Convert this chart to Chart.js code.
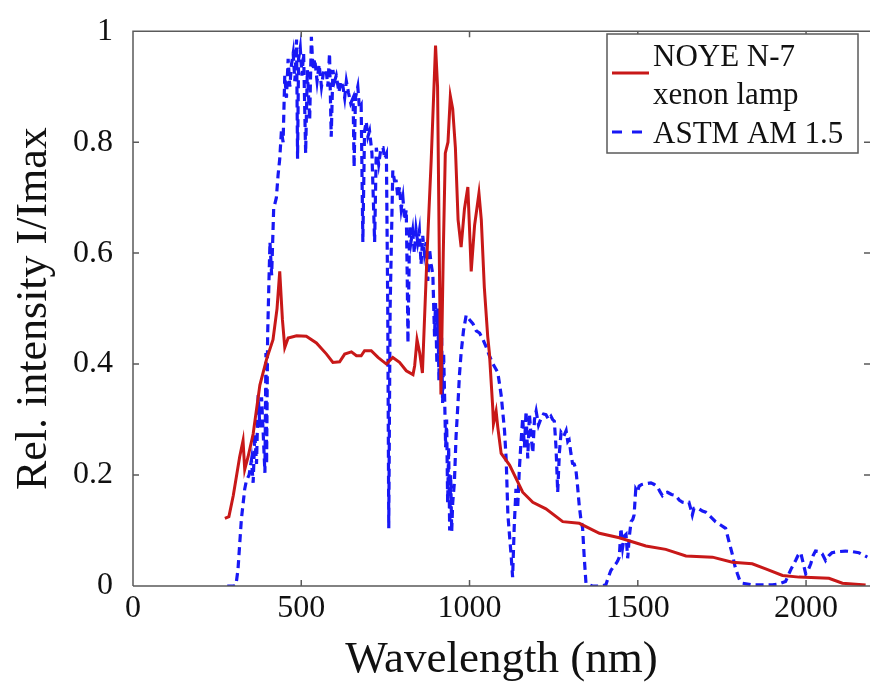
<!DOCTYPE html>
<html>
<head>
<meta charset="utf-8">
<script src="https://cdn.jsdelivr.net/npm/chart.js@4.4.0/dist/chart.umd.min.js"></script>
<style>
  html, body { margin: 0; padding: 0; background: #fff; }
  #spectrumChart { display: block; }
</style>
</head>
<body>
<canvas id="spectrumChart" width="870" height="691"></canvas>
<script>
// NOYE N-7 xenon lamp spectrum (nm / relative intensity)
const xenonWavelength = [273, 285, 298, 317, 327, 332, 342, 357, 377, 397, 416, 428, 436, 444, 451, 461, 486, 515, 545, 575, 594, 614, 629, 649, 664, 678, 688, 708, 728, 753, 772, 792, 812, 832, 837, 844, 852, 860, 874, 886, 899, 905, 911, 915, 922, 928, 936, 943, 950, 958, 966, 975, 985, 995, 1005, 1015, 1028, 1035, 1044, 1054, 1059, 1069, 1071, 1079, 1084, 1094, 1119, 1158, 1188, 1227, 1277, 1326, 1386, 1445, 1524, 1583, 1643, 1722, 1781, 1840, 1880, 1930, 1979, 2068, 2108, 2177];
const xenonIntensity = [0.122, 0.125, 0.163, 0.233, 0.262, 0.21, 0.233, 0.274, 0.362, 0.409, 0.444, 0.5, 0.567, 0.48, 0.43, 0.447, 0.451, 0.45, 0.438, 0.418, 0.403, 0.404, 0.418, 0.422, 0.415, 0.415, 0.424, 0.424, 0.412, 0.4, 0.412, 0.403, 0.388, 0.381, 0.397, 0.444, 0.42, 0.384, 0.602, 0.766, 0.974, 0.9, 0.55, 0.345, 0.6, 0.78, 0.8, 0.883, 0.86, 0.79, 0.66, 0.611, 0.68, 0.719, 0.567, 0.65, 0.708, 0.66, 0.538, 0.45, 0.42, 0.321, 0.292, 0.315, 0.286, 0.239, 0.218, 0.169, 0.151, 0.139, 0.116, 0.113, 0.095, 0.087, 0.072, 0.066, 0.054, 0.052, 0.043, 0.04, 0.031, 0.019, 0.016, 0.014, 0.005, 0.002];

// ASTM AM 1.5 reference spectrum
const astmWavelength = [280, 300, 306, 312, 322, 332, 337, 345, 352, 357, 362, 367, 372, 377, 382, 387, 392, 395, 397, 400, 404, 407, 412, 418, 426, 431, 436, 441, 446, 451, 456, 461, 466, 471, 476, 481, 486, 489, 492, 497, 502, 507, 513, 518, 525, 530, 535, 540, 547, 553, 560, 567, 574, 579, 584, 589, 594, 599, 604, 612, 618, 624, 629, 634, 640, 647, 654, 657, 661, 668, 673, 678, 683, 688, 693, 698, 703, 710, 718, 723, 730, 737, 743, 748, 753, 757, 760, 764, 772, 777, 782, 787, 792, 797, 802, 807, 812, 815, 817, 820, 822, 826, 831, 836, 841, 846, 851, 856, 861, 866, 871, 876, 881, 886, 891, 896, 899, 903, 906, 909, 911, 914, 917, 920, 923, 926, 929, 932, 935, 938, 941, 944, 947, 950, 955, 960, 966, 970, 975, 982, 990, 1000, 1010, 1020, 1030, 1040, 1050, 1059, 1070, 1084, 1094, 1104, 1109, 1114, 1119, 1124, 1128, 1133, 1138, 1143, 1148, 1153, 1158, 1163, 1168, 1173, 1178, 1183, 1188, 1193, 1198, 1205, 1213, 1220, 1227, 1235, 1242, 1247, 1252, 1257, 1262, 1267, 1272, 1280, 1287, 1292, 1296, 1301, 1306, 1311, 1316, 1321, 1326, 1331, 1336, 1341, 1346, 1365, 1390, 1405, 1412, 1420, 1428, 1435, 1440, 1445, 1450, 1455, 1460, 1465, 1470, 1475, 1480, 1485, 1489, 1494, 1499, 1504, 1512, 1519, 1529, 1539, 1549, 1559, 1566, 1573, 1580, 1588, 1600, 1613, 1623, 1633, 1642, 1652, 1657, 1662, 1667, 1675, 1682, 1692, 1702, 1716, 1731, 1746, 1761, 1771, 1781, 1789, 1796, 1803, 1811, 1840, 1870, 1900, 1920, 1939, 1955, 1969, 1976, 1984, 1992, 1999, 2007, 2014, 2021, 2028, 2038, 2048, 2058, 2068, 2077, 2097, 2117, 2137, 2157, 2170, 2182];
const astmIntensity = [0, 0, 0.002, 0.03, 0.12, 0.175, 0.19, 0.2, 0.227, 0.186, 0.274, 0.22, 0.344, 0.286, 0.34, 0.274, 0.204, 0.42, 0.22, 0.45, 0.55, 0.62, 0.56, 0.68, 0.7, 0.74, 0.77, 0.82, 0.8, 0.92, 0.88, 0.95, 0.9, 0.94, 0.96, 0.91, 0.985, 0.77, 0.95, 0.97, 0.92, 0.96, 0.78, 0.93, 0.84, 0.99, 0.93, 0.95, 0.91, 0.94, 0.9, 0.93, 0.93, 0.9, 0.96, 0.81, 0.93, 0.91, 0.92, 0.89, 0.91, 0.9, 0.88, 0.91, 0.89, 0.87, 0.88, 0.755, 0.88, 0.9, 0.86, 0.866, 0.62, 0.82, 0.837, 0.81, 0.82, 0.78, 0.62, 0.79, 0.76, 0.79, 0.79, 0.77, 0.778, 0.5, 0.104, 0.5, 0.749, 0.73, 0.73, 0.7, 0.719, 0.68, 0.7, 0.66, 0.678, 0.55, 0.438, 0.56, 0.649, 0.62, 0.64, 0.6, 0.643, 0.62, 0.64, 0.58, 0.631, 0.6, 0.62, 0.55, 0.608, 0.58, 0.561, 0.45, 0.51, 0.4, 0.5, 0.37, 0.48, 0.4, 0.45, 0.33, 0.42, 0.34, 0.25, 0.3, 0.15, 0.25, 0.1, 0.2, 0.098, 0.15, 0.186, 0.27, 0.333, 0.38, 0.42, 0.46, 0.488, 0.48, 0.473, 0.46, 0.456, 0.444, 0.43, 0.415, 0.4, 0.385, 0.344, 0.28, 0.227, 0.128, 0.09, 0.052, 0.016, 0.11, 0.175, 0.14, 0.21, 0.26, 0.303, 0.25, 0.315, 0.23, 0.31, 0.27, 0.24, 0.3, 0.315, 0.29, 0.303, 0.31, 0.309, 0.3, 0.306, 0.3, 0.297, 0.25, 0.169, 0.24, 0.277, 0.27, 0.28, 0.26, 0.263, 0.24, 0.221, 0.22, 0.21, 0.18, 0.145, 0.12, 0.104, 0.05, 0.005, 0, 0, 0.002, 0.015, 0.028, 0.035, 0.04, 0.045, 0.052, 0.104, 0.07, 0.09, 0.093, 0.05, 0.09, 0.116, 0.12, 0.128, 0.175, 0.17, 0.18, 0.183, 0.184, 0.185, 0.186, 0.183, 0.178, 0.17, 0.163, 0.168, 0.169, 0.165, 0.163, 0.155, 0.151, 0.15, 0.151, 0.14, 0.128, 0.14, 0.14, 0.139, 0.135, 0.133, 0.125, 0.116, 0.11, 0.104, 0.08, 0.057, 0.035, 0.022, 0.01, 0.005, 0.002, 0.002, 0.002, 0.004, 0.008, 0.03, 0.046, 0.055, 0.06, 0.04, 0.022, 0.03, 0.04, 0.055, 0.063, 0.062, 0.058, 0.046, 0.055, 0.06, 0.062, 0.063, 0.062, 0.06, 0.056, 0.052];

const xTickValues = [0, 500, 1000, 1500, 2000];
const yTickValues = [0, 0.2, 0.4, 0.6, 0.8, 1];
const legendLines = [["NOYE N-7", "xenon lamp"], ["ASTM AM 1.5"]];

const serif = "'Liberation Serif', 'DejaVu Serif', serif";
const xenonColor = "rgb(200, 24, 24)";
const astmColor = "rgb(24, 24, 245)";
const frameColor = "#5a5a5a";

function toPoints(xs, ys) {
  return xs.map((x, i) => ({ x: x, y: ys[i] }));
}

//Frame box with inward ticks (MATLAB look)
const frameTicks = {
  id: "frameTicks",
  afterDatasetsDraw(chart) {
    const { ctx, chartArea: a, scales } = chart;
    ctx.save();
    ctx.strokeStyle = frameColor;
    ctx.lineWidth = 1.5;
    ctx.beginPath();
    ctx.moveTo(a.left, a.bottom);
    ctx.lineTo(a.left, a.top);
    ctx.lineTo(a.right, a.top);
    ctx.moveTo(a.left, a.bottom);
    ctx.lineTo(a.right, a.bottom);
    scales.x.ticks.forEach(t => {
      const px = scales.x.getPixelForValue(t.value);
      ctx.moveTo(px, a.bottom); ctx.lineTo(px, a.bottom - 6);
      ctx.moveTo(px, a.top); ctx.lineTo(px, a.top + 6);
    });
    scales.y.ticks.forEach(t => {
      const py = scales.y.getPixelForValue(t.value);
      ctx.moveTo(a.left, py); ctx.lineTo(a.left + 6, py);
      ctx.moveTo(a.right, py); ctx.lineTo(a.right - 6, py);
    });
    ctx.stroke();
    ctx.restore();
  }
};

//Legend drawn inside the plot box, top right
const boxLegend = {
  id: "boxLegend",
  afterDraw(chart) {
    const ctx = chart.ctx;
    const bx = 607, by = 34, bw = 251, bh = 119;
    ctx.save();
    ctx.fillStyle = "#fff";
    ctx.fillRect(bx, by, bw, bh);
    ctx.strokeStyle = frameColor;
    ctx.lineWidth = 1.5;
    ctx.strokeRect(bx, by, bw, bh);

    ctx.lineWidth = 3;
    ctx.strokeStyle = xenonColor;
    ctx.beginPath();
    ctx.moveTo(612, 73); ctx.lineTo(649, 73);
    ctx.stroke();

    ctx.strokeStyle = astmColor;
    ctx.setLineDash([10, 10]);
    ctx.beginPath();
    ctx.moveTo(612, 132); ctx.lineTo(642, 132);
    ctx.stroke();
    ctx.setLineDash([]);

    ctx.fillStyle = "#111";
    ctx.font = "31px " + serif;
    ctx.textBaseline = "alphabetic";
    ctx.textAlign = "left";
    ctx.fillText(legendLines[0][0], 653, 66);
    ctx.fillText(legendLines[0][1], 653, 104);
    ctx.fillText(legendLines[1][0], 653, 143);
    ctx.restore();
  }
};

const spectrumData = {
  datasets: [
    {
      label: legendLines[0].join(" "),
      data: toPoints(xenonWavelength, xenonIntensity),
      borderColor: xenonColor,
      backgroundColor: xenonColor,
      borderWidth: 3,
      pointRadius: 0,
      showLine: true,
      tension: 0,
    },
    {
      label: legendLines[1][0],
      data: toPoints(astmWavelength, astmIntensity),
      borderColor: astmColor,
      backgroundColor: astmColor,
      borderWidth: 3.2,
      borderDash: [8, 5],
      pointRadius: 0,
      showLine: true,
      tension: 0,
    },
  ],
};

const spectrumConfig = {
  type: "scatter",
  data: spectrumData,
  options: {
    responsive: false,
    animation: false,
    devicePixelRatio: 1,
    layout: { padding: { top: 17, right: 0, left: 0, bottom: 0 } },
    plugins: { legend: { display: false }, tooltip: { enabled: false } },
    scales: {
      x: {
        type: "linear",
        min: 0,
        max: 2190,
        grid: { display: false },
        border: { display: false },
        afterBuildTicks: s => { s.ticks = xTickValues.map(v => ({ value: v })); },
        afterFit: s => { s.height = 105; },
        ticks: {
          color: "#111",
          padding: -5,
          maxRotation: 0,
          font: { family: serif, size: 32 },
          callback: v => String(v),
        },
        title: {
          display: true,
          text: "Wavelength (nm)",
          color: "#111",
          font: { family: serif, size: 45 },
          padding: { top: 0, bottom: 4 },
        },
      },
      y: {
        min: 0,
        max: 1,
        grid: { display: false },
        border: { display: false },
        afterBuildTicks: s => { s.ticks = yTickValues.map(v => ({ value: v })); },
        afterFit: s => { s.width = 133; },
        ticks: {
          color: "#111",
          padding: 12,
          font: { family: serif, size: 32 },
          callback: v => String(v),
        },
        title: {
          display: true,
          text: "Rel. intensity I/Imax",
          color: "#111",
          font: { family: serif, size: 44 },
          padding: { top: 8, bottom: 0 },
        },
      },
    },
  },
  plugins: [frameTicks, boxLegend],
};
var spectrumChart = new Chart(document.getElementById("spectrumChart"), spectrumConfig);
</script>
</body>
</html>
